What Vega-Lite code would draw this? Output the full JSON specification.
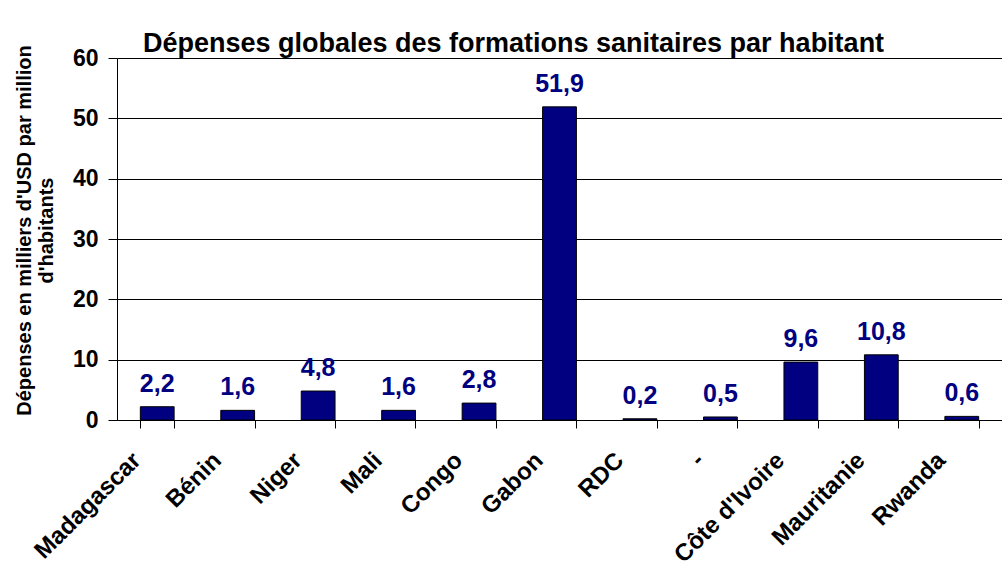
{
  "$schema": "https://vega.github.io/schema/vega-lite/v6.json",
  "width": 885,
  "height": 362,
  "autosize": {"type": "none"},
  "padding": {"left": 117, "top": 58, "right": 0, "bottom": 150},
  "background": "white",
  "config": {
    "locale": {"number": {"decimal": ",", "thousands": " ", "grouping": [3], "currency": ["", " €"]}},
    "view": {"stroke": null},
    "font": "Liberation Sans"
  },
  "title": {
    "text": "Dépenses globales des formations sanitaires par habitant",
    "fontSize": 27,
    "fontWeight": "bold",
    "color": "black",
    "font": "Liberation Sans",
    "anchor": "middle",
    "dx": -46,
    "dy": 19,
    "offset": 6
  },
  "data": {
    "values": [
      {"pays": "Madagascar", "valeur": 2.2},
      {"pays": "Bénin", "valeur": 1.6},
      {"pays": "Niger", "valeur": 4.8},
      {"pays": "Mali", "valeur": 1.6},
      {"pays": "Congo", "valeur": 2.8},
      {"pays": "Gabon", "valeur": 51.9},
      {"pays": "RDC", "valeur": 0.2},
      {"pays": "-", "valeur": 0.5},
      {"pays": "Côte d'Ivoire", "valeur": 9.6},
      {"pays": "Mauritanie", "valeur": 10.8},
      {"pays": "Rwanda", "valeur": 0.6}
    ]
  },
  "encoding": {
    "x": {
      "field": "pays",
      "type": "nominal",
      "sort": null,
      "scale": {"paddingInner": 0.58, "paddingOuter": 0.29},
      "axis": {
        "title": null,
        "labelAngle": -45,
        "labelFontSize": 24,
        "labelFontWeight": "bold",
        "labelColor": "black",
        "labelOffset": -29,
        "labelPadding": 20,
        "tickBand": "extent",
        "tickSize": 8,
        "tickColor": "black",
        "domainColor": "black",
        "grid": false,
        "labelOverlap": false
      }
    },
    "y": {
      "field": "valeur",
      "type": "quantitative",
      "scale": {"domain": [0, 60], "nice": false},
      "axis": {
        "title": ["Dépenses en milliers d'USD par million", "d'habitants"],
        "titleFontSize": 20,
        "titleFontWeight": "bold",
        "titleColor": "black",
        "titleAngle": -90,
        "titleAlign": "center",
        "titleBaseline": "top",
        "titleX": -103,
        "titleY": 172,
        "titleLineHeight": 22,
        "values": [0, 10, 20, 30, 40, 50, 60],
        "format": "d",
        "labelFontSize": 23,
        "labelFontWeight": "bold",
        "labelColor": "black",
        "labelPadding": 10,
        "tickSize": 9,
        "tickColor": "black",
        "domainColor": "black",
        "gridColor": "black",
        "gridOpacity": 1
      }
    }
  },
  "layer": [
    {"mark": {"type": "bar", "color": "#000080", "stroke": "black", "strokeWidth": 1}},
    {
      "mark": {"type": "text", "color": "#000080", "fontSize": 25, "fontWeight": "bold", "baseline": "alphabetic", "dy": -15},
      "encoding": {"text": {"field": "valeur", "type": "quantitative", "format": ".1f"}}
    }
  ]
}
